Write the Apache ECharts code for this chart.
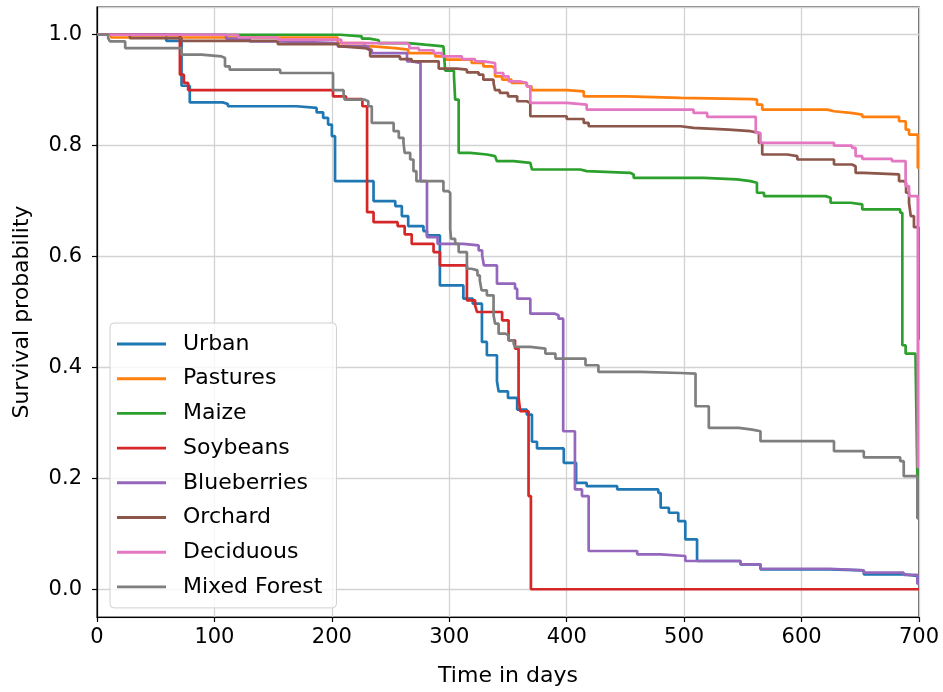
<!DOCTYPE html>
<html>
<head>
<meta charset="utf-8">
<script src="https://cdn.jsdelivr.net/npm/echarts@6/dist/echarts.min.js"></script>
<style>
  html, body { margin: 0; padding: 0; background: #fff; }
  #main { width: 943px; height: 692px; }
</style>
</head>
<body>
<div id="main"></div>
<script>
// survival curves, [day, probability] (value holds until next day)
var names = ['Urban', 'Pastures', 'Maize', 'Soybeans', 'Blueberries', 'Orchard', 'Deciduous', 'Mixed Forest'];
var colors = ['#1f77b4', '#ff7f0e', '#2ca02c', '#d62728', '#9467bd', '#8c564b', '#e377c2', '#7f7f7f'];

var urban = [[0,1],[59,0.989],[72,0.908],[79,0.878],[107,0.875],[111.5,0.871],[170,0.868],[187,0.86],[192.6,0.85],[196.8,0.838],[200,0.817],
  [202.7,0.736],[235.5,0.70],[254,0.691],[259.6,0.673],[265,0.655],[278,0.646],[281,0.638],[292,0.548],[312,0.524],[320,0.515],
  [327.8,0.446],[332,0.422],[340.6,0.375],[342,0.357],[350,0.345],[357.8,0.324],[366,0.315],[370.4,0.266],[374.7,0.254],[397.5,0.228],
  [408,0.192],[417,0.186],[443,0.18],[478,0.174],[480,0.147],[487,0.138],[495,0.123],[501,0.09],[511,0.051],[548,0.045],[565,0.036],
  [624,0.034],[653,0.027],[687,0.024],[698.6,0.013],[700,0.013]];

var pastures = [[0,1],[12,0.995],[205,0.985],[228,0.979],[235,0.976],[254,0.973],[265,0.967],[288,0.961],[296.5,0.955],[319,0.949],
  [329,0.943],[336,0.94],[339,0.925],[345,0.919],[353,0.913],[366,0.907],[370,0.90],[400,0.898],[414.5,0.889],[451,0.886],[497,0.884],
  [558,0.883],[562,0.874],[566.5,0.865],[622,0.862],[627.6,0.859],[641.7,0.856],[651.7,0.852],[683,0.844],[688.7,0.829],[691.5,0.82],
  [699,0.76],[700,0.76]];

var maize = [[0,1],[207,0.997],[225.5,0.993],[232,0.99],[240,0.985],[265,0.982],[279.5,0.979],[295,0.976],[296.5,0.935],[304,0.925],
  [305,0.883],[308,0.787],[317.8,0.784],[332,0.781],[339,0.778],[340.6,0.772],[354.7,0.769],[369,0.766],[370.4,0.757],[411.6,0.754],
  [417,0.751],[454,0.748],[457,0.742],[516.7,0.739],[545,0.736],[556.5,0.733],[562,0.715],[568,0.709],[620.5,0.706],[624.7,0.697],
  [641.7,0.694],[651.7,0.685],[684,0.679],[685.8,0.44],[688.6,0.425],[697,0.422],[698.6,0.2],[700,0.2]];

var soybeans = [[0,1],[70.6,0.928],[74,0.913],[77.6,0.9],[201,0.889],[212,0.884],[226,0.871],[230,0.68],[235.5,0.662],[256,0.655],
  [262,0.64],[268,0.623],[286.6,0.608],[292,0.584],[315,0.521],[322,0.512],[323.6,0.50],[345,0.485],[350.5,0.449],[356,0.434],
  [359,0.345],[360.4,0.321],[367.5,0.168],[369.5,0],[700,0]];

var blueberries = [[0,1],[110,0.993],[130,0.988],[157,0.985],[205,0.979],[231,0.973],[234,0.967],[264,0.952],[268,0.949],[275.5,0.736],
  [281,0.635],[290,0.623],[312,0.62],[325,0.611],[328,0.602],[329.5,0.584],[340.6,0.551],[356,0.542],[357.8,0.524],[369,0.497],
  [390,0.494],[393,0.488],[397,0.285],[407,0.18],[413,0.168],[418.7,0.069],[460,0.063],[480,0.06],[501,0.051],[548,0.045],[565,0.037],
  [624,0.034],[653,0.03],[687,0.026],[698.6,0.01],[700,0.01]];

var orchard = [[0,1],[28,0.994],[72,0.989],[154,0.983],[205.5,0.979],[208,0.976],[228,0.973],[232.6,0.961],[258,0.956],[268,0.952],
  [291,0.939],[306.5,0.937],[315,0.932],[325,0.928],[329,0.919],[337.7,0.913],[339,0.90],[343,0.895],[350,0.889],[357.8,0.88],
  [366,0.877],[369,0.853],[400,0.848],[414.5,0.841],[418.7,0.835],[497,0.832],[508,0.829],[538,0.826],[556.5,0.823],[563.7,0.805],
  [566.5,0.784],[587.8,0.781],[596.4,0.775],[627.6,0.766],[643,0.763],[646,0.751],[653,0.748],[683,0.736],[687,0.733],[689,0.715],
  [691.5,0.697],[693,0.673],[695.7,0.653],[699.5,0.45],[700,0.45]];

var deciduous = [[0,1],[120,0.995],[154,0.991],[208,0.985],[264,0.982],[266,0.976],[274,0.972],[286.6,0.967],[293.7,0.961],[310.7,0.956],
  [322,0.952],[329,0.949],[339,0.931],[346,0.925],[350.5,0.916],[360,0.913],[366,0.907],[369,0.877],[400,0.874],[417,0.865],[508,0.859],
  [519.6,0.852],[561,0.823],[565,0.805],[627.6,0.80],[643,0.796],[646,0.781],[651.7,0.776],[677,0.772],[688.6,0.727],[691.5,0.709],
  [699,0.22],[700,0.22]];

var mixedForest = [[0,1],[9.5,0.994],[11,0.988],[24,0.976],[72,0.964],[89,0.961],[106,0.958],[109,0.943],[113,0.937],[156,0.931],
  [201,0.90],[210,0.889],[211,0.883],[228,0.88],[231,0.871],[234,0.841],[252.6,0.826],[257,0.814],[261,0.805],[262,0.787],[266.7,0.775],
  [269.5,0.754],[272,0.736],[295,0.718],[299,0.715],[300.8,0.65],[301.5,0.632],[305,0.623],[308,0.608],[315,0.578],[319,0.575],
  [324,0.566],[326,0.557],[327.5,0.539],[332,0.53],[337.7,0.494],[339,0.479],[342,0.461],[347.7,0.458],[350.5,0.449],[354.8,0.443],
  [356,0.437],[369,0.434],[381.8,0.425],[390.4,0.416],[416,0.404],[427,0.392],[463,0.39],[497,0.389],[509.7,0.33],[521,0.291],
  [546.6,0.288],[558,0.285],[565,0.267],[627.6,0.249],[653,0.238],[684,0.231],[687,0.204],[698.6,0.128],[700,0.128]];

var allData = [urban, pastures, maize, soybeans, blueberries, orchard, deciduous, mixedForest];

var xTicks = { min: 0, max: 700, step: 100 };

var chart = echarts.init(document.getElementById('main'));
var font = 'DejaVu Sans';

var series = [];
names.forEach(function(n, i) {
  series.push({
    name: n,
    type: 'line',
    step: 'end',
    symbol: 'none',
    data: allData[i],
    lineStyle: { color: colors[i], width: 2.7 },
    itemStyle: { color: colors[i] },
    animation: false
  });
});

var option = {
  backgroundColor: '#fff',
  animation: false,
  textStyle: { fontFamily: font },
  grid: {
    left: 97, right: 24, top: 7, bottom: 73,
    show: true, borderColor: '#000', borderWidth: 1.2
  },
  legend: {
    orient: 'vertical',
    left: 110, top: 323,
    data: names,
    icon: 'path://M0,0H100V6H0Z',
    itemWidth: 49, itemHeight: 18, itemGap: 12.7,
    padding: [10, 14, 10, 7],
    backgroundColor: 'rgba(255,255,255,0.8)',
    borderColor: '#d0d0d0', borderWidth: 1, borderRadius: 4,
    textStyle: { fontFamily: font, fontSize: 22, color: '#000', lineHeight: 22, padding: [0, 0, 0, 12] }
  },
  xAxis: {
    type: 'value',
    min: xTicks.min, max: xTicks.max, interval: xTicks.step,
    name: 'Time in days', nameLocation: 'middle', nameGap: 48,
    nameTextStyle: { fontFamily: font, fontSize: 22, color: '#000' },
    axisLine: { show: true, onZero: false, lineStyle: { color: '#000', width: 1.2 } },
    axisTick: { show: true, length: 5, lineStyle: { color: '#000', width: 1.2 } },
    axisLabel: { fontFamily: font, fontSize: 21, color: '#000', margin: 10 },
    splitLine: { show: true, lineStyle: { color: '#d3d3d3', width: 1.3 } }
  },
  yAxis: {
    type: 'value',
    min: -0.05, max: 1.05, splitNumber: 5,
    name: 'Survival probability', nameLocation: 'middle', nameGap: 64,
    nameTextStyle: { fontFamily: font, fontSize: 22, color: '#000' },
    axisLine: { show: true, onZero: false, lineStyle: { color: '#000', width: 1.2 } },
    axisTick: { show: true, length: 5, lineStyle: { color: '#000', width: 1.2 } },
    axisLabel: {
      fontFamily: font, fontSize: 21, color: '#000', margin: 15,
      showMinLabel: false, showMaxLabel: false,
      formatter: function(v) {
        var r = Math.round(v * 10) / 10;
        if (Math.abs(r - v) > 1e-6) return '';
        return r.toFixed(1);
      }
    },
    splitLine: { show: true, lineStyle: { color: '#d3d3d3', width: 1.3 } }
  },
  series: series
};

chart.setOption(option);
</script>
</body>
</html>
